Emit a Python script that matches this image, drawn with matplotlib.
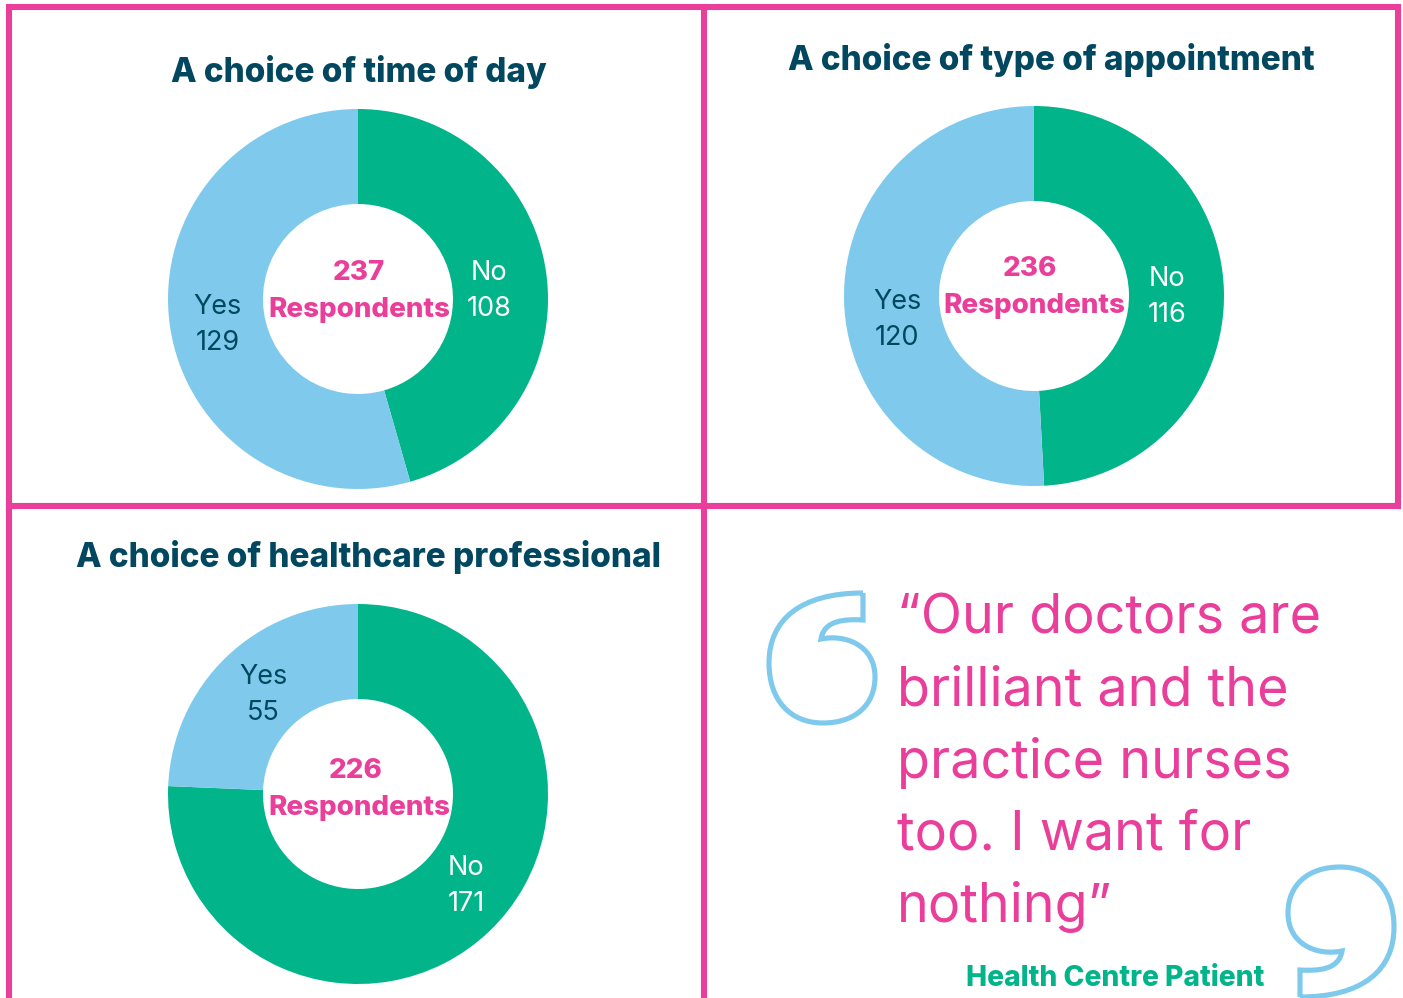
import matplotlib
matplotlib.use('Agg')
import matplotlib.pyplot as plt
from matplotlib.path import Path
from matplotlib.patches import PathPatch

plt.rcParams['font.family'] = ['Inter', 'DejaVu Sans']

# --- data ---
titles = ['A choice of time of day', 'A choice of type of appointment', 'A choice of healthcare professional']
no_values = [108, 116, 171]
yes_values = [129, 120, 55]
respondents = [237, 236, 226]
quote_lines = ['“Our doctors are', 'brilliant and the', 'practice nurses', 'too. I want for', 'nothing”']
quote_source = 'Health Centre Patient'

PINK = '#E93E9A'
GREEN = '#02B48A'
BLUE = '#7FCAEC'
NAVY = '#00475F'

W, H = 1403, 998
fig = plt.figure(figsize=(W / 100, H / 100), dpi=100, facecolor='white')

# donut centres in pixels, radius 190
centres = [(358, 299), (1034, 296), (358, 794)]
R = 190
for (cx, cy), no, yes in zip(centres, no_values, yes_values):
    ax = fig.add_axes([(cx - R) / W, 1 - (cy + R) / H, 2 * R / W, 2 * R / H])
    ax.pie([no, yes], colors=[GREEN, BLUE], startangle=90, counterclock=False,
           radius=1, wedgeprops={'width': 0.5, 'linewidth': 0})
    ax.set_xlim(-1, 1); ax.set_ylim(-1, 1)
    ax.axis('off')

# overlay in pixel coords
ov = fig.add_axes([0, 0, 1, 1], facecolor='none')
ov.set_xlim(0, W); ov.set_ylim(H, 0)
ov.axis('off')

# frame lines
frame = [([9, 9], [7, 998]), ([6, 1401], [7, 7]), ([6, 1401], [505.5, 505.5]),
         ([704, 704], [7, 998]), ([1398, 1398], [7, 505])]
for xs, ys in frame:
    ov.plot(xs, ys, color=PINK, lw=4.4, solid_capstyle='butt')

# titles
title_pos = [(359, 72), (1051, 60), (369, 557)]
for t, (x, y) in zip(titles, title_pos):
    ov.text(x, y, t, color=NAVY, fontsize=24, fontweight='heavy', ha='center', va='center')

# centre labels
count_pos = [(359, 273), (1030, 269), (356, 771)]
resp_pos = [(359, 310), (1034, 306), (359, 808)]
for n, p1, p2 in zip(respondents, count_pos, resp_pos):
    ov.text(p1[0], p1[1], str(n), color=PINK, fontsize=20, fontweight='heavy', ha='center', va='center')
    ov.text(p2[0], p2[1], 'Respondents', color=PINK, fontsize=20, fontweight='heavy', ha='center', va='center')

# slice labels
yes_pos = [(218, 307), (897, 302), (263, 677)]
no_pos = [(489, 273), (1167, 279), (466, 868)]
for val, (x, y) in zip(yes_values, yes_pos):
    ov.text(x, y, 'Yes', color=NAVY, fontsize=19.5, ha='center', va='center')
    ov.text(x, y + 36, str(val), color=NAVY, fontsize=19.5, ha='center', va='center')
for val, (x, y) in zip(no_values, no_pos):
    ov.text(x, y, 'No', color='white', fontsize=19.5, ha='center', va='center')
    ov.text(x, y + 36, str(val), color='white', fontsize=19.5, ha='center', va='center')

# quote text
for i, line in enumerate(quote_lines):
    ov.text(897, 634 + 72 * i, line, color=PINK, fontsize=38.8, ha='left', va='baseline')
ov.text(966, 979, quote_source, color=GREEN, fontsize=20.3, fontweight='heavy', ha='left', va='center')

# quote marks, outlined
left_mark = [(863, 593), (863, 620), (845, 619), (824, 620), (821, 639), (845, 634), (875, 645), (875, 677),
             (875, 705), (855, 723), (823, 723), (790, 723), (769, 700), (769, 663), (769, 620), (800, 593),
             (863, 593)]
codes = [Path.MOVETO, Path.LINETO] + [Path.CURVE4] * 15
ov.add_patch(PathPatch(Path(left_mark, codes), fc='none', ec=BLUE, lw=3.7, joinstyle='miter'))
right_mark = [(2163 - x, 1590 - y) for x, y in left_mark]
ov.add_patch(PathPatch(Path(right_mark, codes), fc='none', ec=BLUE, lw=3.7, joinstyle='miter'))

fig.savefig('out.png', dpi=100)
